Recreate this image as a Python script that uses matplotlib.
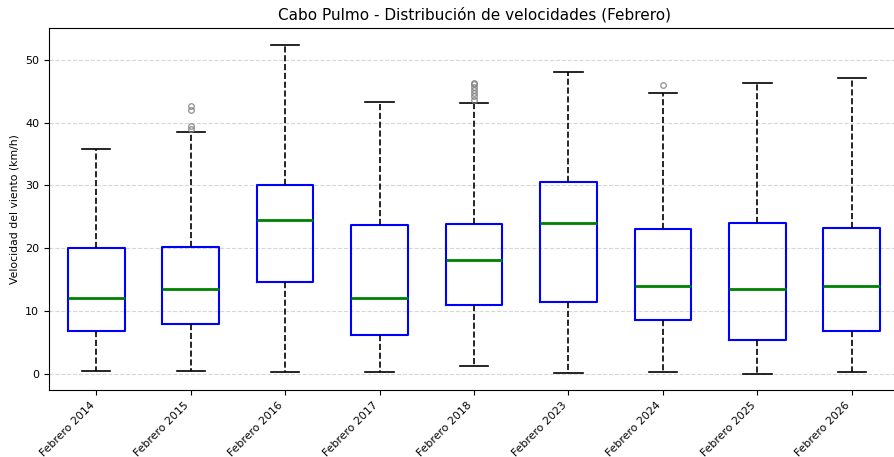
import matplotlib
matplotlib.use("Agg")
import matplotlib.pyplot as plt

labels = ["Febrero 2014", "Febrero 2015", "Febrero 2016", "Febrero 2017", "Febrero 2018",
          "Febrero 2023", "Febrero 2024", "Febrero 2025", "Febrero 2026"]
whislo = [0.4, 0.4, 0.3, 0.2, 1.3, 0.1, 0.2, 0.0, 0.2]
q1 = [6.8, 7.9, 14.6, 6.1, 11.0, 11.5, 8.5, 5.4, 6.8]
med = [12.0, 13.5, 24.5, 12.0, 18.1, 24.0, 14.0, 13.5, 14.0]
q3 = [20.0, 20.2, 30.1, 23.7, 23.9, 30.5, 23.0, 24.0, 23.2]
whishi = [35.8, 38.6, 52.4, 43.3, 43.1, 48.1, 44.7, 46.4, 47.2]
fliers = [[], [39.0, 39.4, 42.0, 42.6], [], [],
          [43.7, 44.2, 44.7, 45.2, 45.7, 46.1, 46.4], [], [46.0], [], []]

stats = []
for i in range(len(labels)):
    stats.append(dict(label=labels[i], whislo=whislo[i], q1=q1[i], med=med[i],
                      q3=q3[i], whishi=whishi[i], fliers=fliers[i]))

fig = plt.figure(figsize=(8.94, 4.57), dpi=100)
ax = fig.add_axes([49/894, 67/457, 850/894, 362/457])

ax.bxp(stats, widths=0.6, showfliers=True,
       boxprops=dict(color="blue", linewidth=1.5),
       medianprops=dict(color="green", linewidth=2),
       whiskerprops=dict(color="black", linestyle="--", linewidth=1.2),
       capprops=dict(color="black", linewidth=1.2),
       flierprops=dict(marker="o", markerfacecolor="none", markeredgecolor="gray",
                       markersize=4, alpha=0.8))

ax.set_title("Cabo Pulmo - Distribución de velocidades (Febrero)", fontsize=11)
ax.set_ylabel("Velocidad del viento (km/h)", fontsize=7.8)
ax.set_xticklabels(labels, rotation=45, ha="right", fontsize=7.8)
ax.tick_params(axis="y", labelsize=8)
ax.yaxis.grid(True, linestyle="--", color="lightgray", alpha=0.9)
ax.set_axisbelow(True)
ax.set_ylim(-2.6, 55.1)

fig.savefig("out.png", dpi=100)
